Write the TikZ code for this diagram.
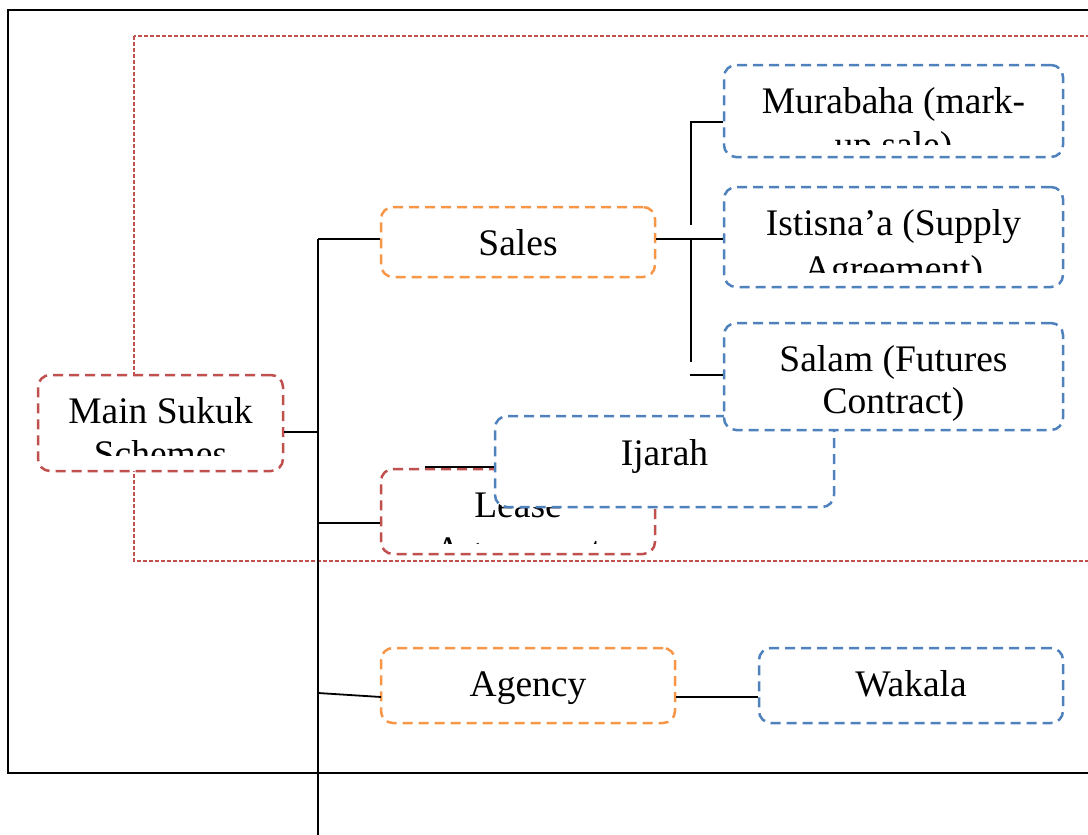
\documentclass[tikz,border=0pt]{standalone}
\usepackage{fontspec}
\setmainfont{Liberation Serif}
\definecolor{cred}{HTML}{C0504D}
\definecolor{corange}{HTML}{F79646}
\definecolor{cblue}{HTML}{4F81BD}
\begin{document}
\begin{tikzpicture}[x=1pt,y=-1pt,
  box/.style={draw, rounded corners=12pt, line width=2.5pt, dash pattern=on 10pt off 6pt, fill=white, inner sep=0pt},
  redbox/.style={box, draw=cred},
  orangebox/.style={box, draw=corange},
  bluebox/.style={box, draw=cblue},
  lbl/.style={anchor=base, inner sep=0pt, font=\fontsize{37.5}{43}\selectfont},
  conn/.style={draw=black, line width=1.8pt},
  frame/.style={draw=black, line width=2.4pt},
  dotframe/.style={draw=cred, line width=1.4pt, dash pattern=on 4pt off 2pt}]
\useasboundingbox (0,0) rectangle (1088,835);
% frames
\draw[frame] (8,10) rectangle (1110,773);
\draw[dotframe] (134,36) rectangle (1110,561);

% Main Sukuk Schemes
\node[redbox, minimum width=245pt, minimum height=96pt] (main) at (160.5,423) {};
\node[lbl] (mainA) at (160.5,423) {Main Sukuk};
\begin{scope}\clip (38,375) rectangle (283,455);
\node[lbl] (mainB) at (160.5,466) {Schemes};
\end{scope}

% Sales
\node[orangebox, minimum width=274pt, minimum height=70pt] (sales) at (518,242) {};
\node[lbl] (salesT) at (518,255) {Sales};

% Murabaha
\node[bluebox, minimum width=339pt, minimum height=92pt] (mur) at (893.5,111) {};
\node[lbl] (murA) at (893.5,113) {Murabaha (mark-};
\begin{scope}\clip (724,65) rectangle (1063,144);
\node[lbl] (murB) at (893.5,157) {up sale)};
\end{scope}

% Istisna'a
\node[bluebox, minimum width=339pt, minimum height=100pt] (ist) at (893.5,237) {};
\node[lbl] (istA) at (893.5,235) {Istisna’a (Supply};
\begin{scope}\clip (724,187) rectangle (1063,272);
\node[lbl] (istB) at (893.5,281) {Agreement)};
\end{scope}

% Lease
\node[redbox, minimum width=274pt, minimum height=85pt] (lease) at (518,511.5) {};
\node[lbl] (leaseA) at (518,517) {Lease};
\begin{scope}\clip (381,469) rectangle (655,543);
\node[lbl] (leaseB) at (518,562) {Agreement};
\end{scope}

% Ijarah
\node[bluebox, minimum width=339pt, minimum height=91pt] (ijarah) at (664.5,461.5) {};
\node[lbl] (ijarahT) at (664.5,465) {Ijarah};

% Salam
\node[bluebox, minimum width=339pt, minimum height=107pt] (salam) at (893.5,376.5) {};
\node[lbl] (salamA) at (893.5,371) {Salam (Futures};
\node[lbl] (salamB) at (893.5,413) {Contract)};

% Agency and Wakala
\node[orangebox, minimum width=294pt, minimum height=75pt] (agency) at (528,685.5) {};
\node[lbl] (agencyT) at (528,696) {Agency};
\node[bluebox, minimum width=304pt, minimum height=75pt] (wakala) at (911,685.5) {};
\node[lbl] (wakalaT) at (911,696) {Wakala};

% junction coordinates
\coordinate (tTop) at (318,239);
\coordinate (tBot) at (318,840);
\coordinate (jMain) at (318,432);
\coordinate (jLease) at (318,523);
\coordinate (jAg) at (318,693);
\coordinate (agIn) at (381,697);
\coordinate (aw) at (700,697);
\coordinate (s1) at (691,239);
\coordinate (m1) at (691,225);
\coordinate (m2) at (691,122);
\coordinate (s2) at (691,362);
\coordinate (s3) at (690,375);
\coordinate (i1) at (425,467);

% connectors
\draw[conn] (tTop) -- (tBot);
\draw[conn] (main.east |- jMain) -- (jMain);
\draw[conn] (tTop) -- (tTop -| sales.west);
\draw[conn] (jLease) -- (jLease -| lease.west);
\draw[conn] (jAg) -- (agIn);
\draw[conn] (agency.east |- aw) -- (wakala.west |- aw);
\draw[conn] (sales.east |- s1) -- (ist.west |- s1);
\draw[conn] (m1) -- (m2) -- (m2 -| mur.west);
\draw[conn] (s1) -- (s2);
\draw[conn] (s3) -- (s3 -| salam.west);
\draw[conn] (i1) -- (i1 -| ijarah.west);
\end{tikzpicture}
\end{document}
